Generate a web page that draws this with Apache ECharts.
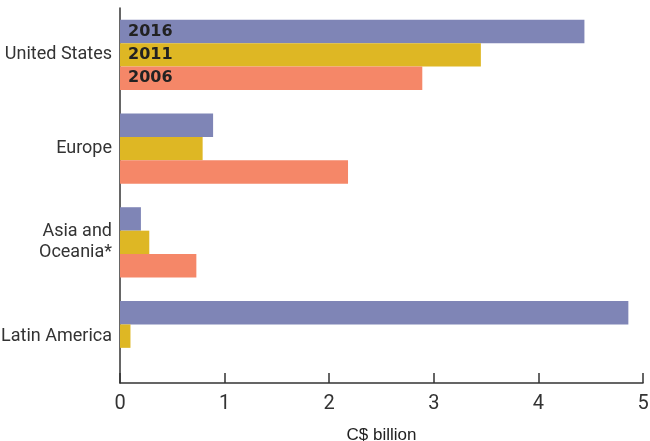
<!DOCTYPE html>
<html><head><meta charset="utf-8">
<script src="https://cdn.jsdelivr.net/npm/echarts@6/dist/echarts.min.js"></script>
<style>html,body{margin:0;padding:0;background:#fff}#c{width:650px;height:441px}</style>
</head><body><div id="c"></div>
<script>
const categories = ['United States', 'Europe', 'Asia and\nOceania*', 'Latin America'];
const seriesNames = ['2016', '2011', '2006'];
const values2016 = [4.44, 0.89, 0.20, 4.86];
const values2011 = [3.45, 0.79, 0.28, 0.10];
const values2006 = [2.89, 2.18, 0.73, null];
const xTicks = [0, 1, 2, 3, 4, 5];

const colors = ['#7f85b6', '#deb724', '#f58768'];
const allValues = [values2016, values2011, values2006];
const narrow = 'Roboto, "Noto Sans", sans-serif';

const chart = echarts.init(document.getElementById('c'));
chart.setOption({
  animation: false,
  grid: { left: 120, right: 7, top: 8, bottom: 58, containLabel: false, outerBoundsMode: 'none' },
  xAxis: {
    type: 'value', min: xTicks[0], max: xTicks[xTicks.length - 1], interval: 1,
    name: 'C$ billion', nameLocation: 'middle', nameGap: 44,
    nameTextStyle: { fontFamily: '"Liberation Sans", Arial, sans-serif', fontSize: 17, color: '#222' },
    axisLine: { show: true, lineStyle: { color: '#333', width: 1.5 } },
    axisTick: { show: true, inside: true, length: 10, lineStyle: { color: '#333', width: 1.5 } },
    axisLabel: { fontFamily: narrow, fontSize: 20, color: '#333', margin: 11 },
    splitLine: { show: false }
  },
  yAxis: {
    type: 'category', data: categories, inverse: true,
    axisLine: { show: true, lineStyle: { color: '#333', width: 1.5 } },
    axisTick: { show: false },
    axisLabel: { fontFamily: narrow, fontSize: 18, color: '#333', margin: 8, lineHeight: 21,
      align: 'right', padding: [7, 0, 0, 0] }
  },
  series: seriesNames.map((name, i) => ({
    name: name, type: 'bar', barGap: '0%', barCategoryGap: '25%',
    itemStyle: { color: colors[i] },
    data: allValues[i].map((v, j) => j === 0 ? {
      value: v,
      label: { show: true, position: 'insideLeft', distance: 8, formatter: name,
        fontFamily: '"DejaVu Sans", sans-serif', fontWeight: 'bold', fontSize: 16, color: '#222' }
    } : v)
  }))
});
</script></body></html>
